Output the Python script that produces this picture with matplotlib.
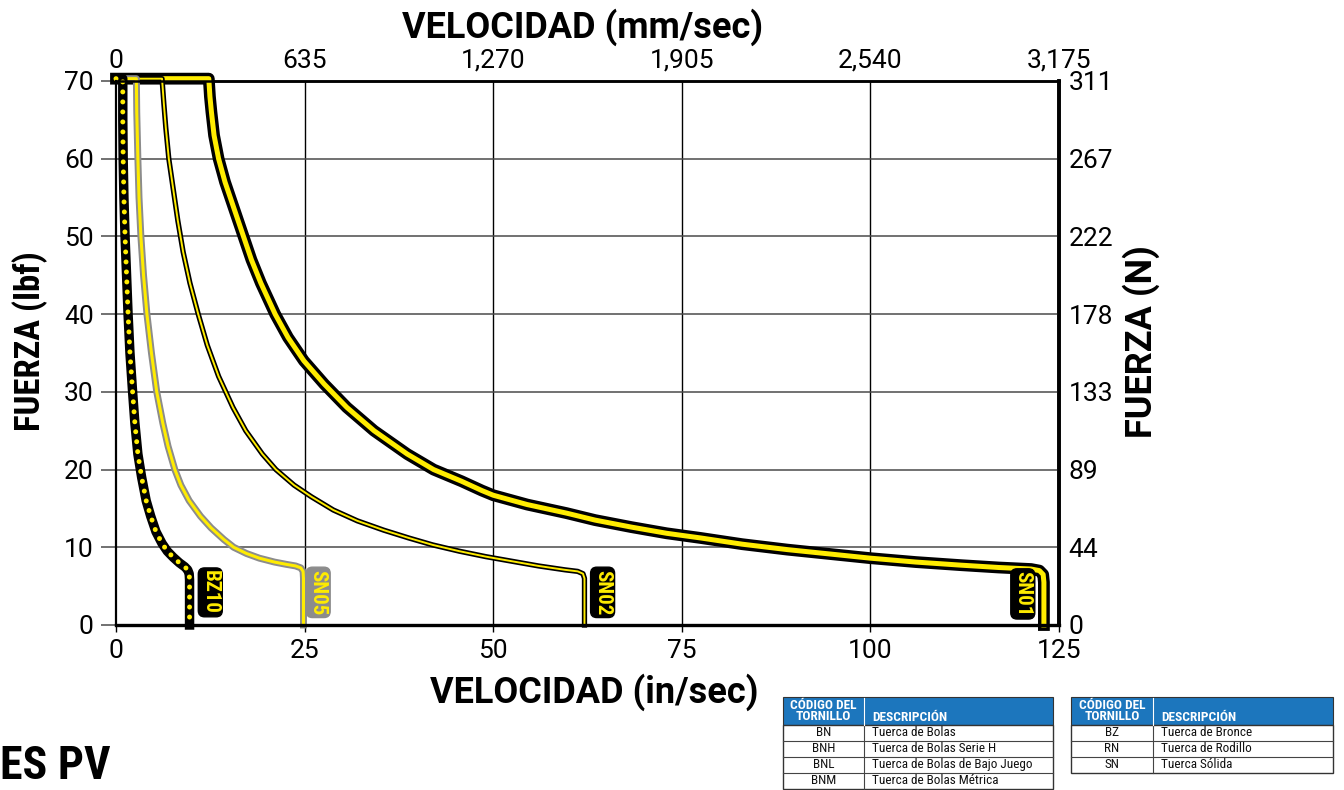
import matplotlib
matplotlib.use("Agg")
import matplotlib.pyplot as plt
from matplotlib import font_manager as fm
from matplotlib.patches import Rectangle

# ---------------- data ----------------
vel_ticks_in = [0, 25, 50, 75, 100, 125]
vel_ticks_mm = [0, 635, 1270, 1905, 2540, 3175]
vel_labels_mm = ["0", "635", "1,270", "1,905", "2,540", "3,175"]
force_ticks_lbf = [0, 10, 20, 30, 40, 50, 60, 70]
force_labels_n = ["0", "44", "89", "133", "178", "222", "267", "311"]

sn01_x = [0, 12.3, 12.45, 12.65, 13.0, 13.6, 14.45, 15.5, 16.9, 17.95, 19.2, 21.1, 22.8, 24.9, 27.6, 30.6, 34.2,
          38.6, 42.1, 45.8, 48.5, 50.0, 54.5, 59.7, 63.5, 68.3, 73.0, 77.5, 83.0, 89.0, 95.0, 100.0, 106.0,
          112.0, 117.0, 121.3, 122.4, 122.9, 123.0, 123.0]
sn01_y = [70.3, 70.3, 68, 66, 63, 60, 57, 54, 50, 47, 44, 40, 37, 34, 31, 28, 25,
          22, 20, 18.5, 17.3, 16.7, 15.5, 14.4, 13.5, 12.6, 11.8, 11.2, 10.4, 9.7, 9.1, 8.6, 8.1,
          7.7, 7.4, 7.2, 7.0, 6.5, 5.5, 0]

sn02_x = [0, 6.1, 6.35, 6.6, 7.0, 7.6, 8.2, 8.9, 9.8, 10.9, 12.1, 13.6, 15.5, 17.2, 19.4, 21.2, 23.6,
          25.9, 28.8, 32.0, 35.5, 38.8, 42.0, 45.5, 49.0, 52.5, 56.0, 59.5, 61.2, 61.9, 62.1, 62.1]
sn02_y = [70.3, 70.3, 67, 64, 60, 56, 52, 48, 44, 40, 36, 32, 28, 25, 22, 20, 18,
          16.5, 14.8, 13.4, 12.2, 11.2, 10.3, 9.5, 8.8, 8.2, 7.6, 7.1, 6.9, 6.6, 6.0, 0]

sn05_x = [0, 2.7, 2.75, 2.9, 3.05, 3.3, 3.65, 4.1, 4.7, 5.4, 6.2, 6.9, 7.8, 8.6, 9.7, 11.2, 12.6, 14.3,
          15.6, 17.3, 19.0, 21.0, 22.6, 23.8, 24.5, 24.8, 24.85, 24.85]
sn05_y = [70.3, 70.3, 66, 60, 55, 50, 45, 40, 35, 30, 26, 23, 20, 18, 16, 14, 12.5, 11,
          10, 9.2, 8.6, 8.1, 7.8, 7.6, 7.35, 6.9, 6.0, 0]

bz10_x = [0, 0.9, 0.9, 0.95, 1.05, 1.2, 1.4, 1.6, 1.85, 2.2, 2.5, 2.9, 3.4, 4.0, 4.6, 5.3, 6.1, 6.8,
          7.6, 8.4, 9.1, 9.5, 9.7, 9.75, 9.75]
bz10_y = [70.3, 70.3, 65, 60, 55, 50, 45, 40, 35, 30, 26, 22, 19, 16, 14, 12, 10.5, 9.5,
          8.7, 8.0, 7.5, 7.1, 6.6, 5.8, 0]

curve_labels = ["BZ10", "SN05", "SN02", "SN01"]
label_x = [12.5, 26.8, 64.5, 120.2]
label_y = [4.2, 4.2, 4.2, 4.0]

codes1 = ["BN", "BNH", "BNL", "BNM"]
desc1 = ["Tuerca de Bolas", "Tuerca de Bolas Serie H", "Tuerca de Bolas de Bajo Juego", "Tuerca de Bolas Métrica"]
codes2 = ["BZ", "RN", "SN"]
desc2 = ["Tuerca de Bronce", "Tuerca de Rodillo", "Tuerca Sólida"]

# ---------------- fonts ----------------
avail = {f.name for f in fm.fontManager.ttflist}
COND = None
for cand in ["Roboto Condensed", "Liberation Sans Narrow", "Noto Sans Condensed", "Open Sans Condensed"]:
    if cand in avail:
        COND = cand
        break
if COND is None:
    COND = "Liberation Sans"
WIDE = "Roboto" if "Roboto" in avail else "Liberation Sans"
FAM = [COND, "DejaVu Sans"]
FAMW = [WIDE, "DejaVu Sans"]
plt.rcParams["font.family"] = FAM

W, H = 1344, 790
fig = plt.figure(figsize=(W / 100, H / 100), dpi=100)
YEL = "#ffec00"

L, R, T, B = 116, 1059, 81, 625
ax = fig.add_axes([L / W, 1 - B / H, (R - L) / W, (B - T) / H])
ax.set_xlim(0, 125)
ax.set_ylim(0, 70)

# grid
for v in vel_ticks_in[1:-1]:
    ax.axvline(v, color="black", lw=1.0, zorder=1)
for f in force_ticks_lbf[1:-1]:
    ax.axhline(f, color="#4a4a4a", lw=1.1, zorder=1)

# curves
kw = dict(solid_joinstyle="round", clip_on=False)
ax.plot(sn01_x, sn01_y, color="black", lw=8.5, zorder=3, **kw)
ax.plot(sn01_x, sn01_y, color=YEL, lw=3.6, zorder=3.1, **kw)
ax.plot(sn02_x, sn02_y, color="black", lw=3.8, zorder=3.2, **kw)
ax.plot(sn02_x, sn02_y, color=YEL, lw=1.4, zorder=3.3, **kw)
ax.plot(sn05_x, sn05_y, color="#8c8c8c", lw=5.0, zorder=3.4, **kw)
ax.plot(sn05_x, sn05_y, color=YEL, lw=2.2, zorder=3.5, **kw)
ax.plot(bz10_x, bz10_y, color="black", lw=6.8, zorder=3.6, **kw)
ax.plot(bz10_x, bz10_y, color=YEL, lw=3.6, linestyle=(0, (0.001, 2.0)), dash_capstyle="round",
        clip_on=False, zorder=3.7)

# curve labels
box_fc = ["black", "#8c8c8c", "black", "black"]
for name, lx, ly, fc in zip(curve_labels, label_x, label_y, box_fc):
    ax.text(lx, ly, name, rotation=-90, ha="center", va="center", fontsize=15, fontweight="bold",
            color=YEL, family=FAM, zorder=5,
            bbox=dict(boxstyle="round,pad=0.12,rounding_size=0.3", fc=fc, ec=fc, lw=1))

# spines
for s, lw in [("left", 1.6), ("bottom", 2.4), ("top", 1.8), ("right", 2.6)]:
    ax.spines[s].set_linewidth(lw)
    ax.spines[s].set_color("black")
    ax.spines[s].set_zorder(4)

TS = 19
ax.set_xticks(vel_ticks_in)
ax.set_xticklabels([str(v) for v in vel_ticks_in], family=FAMW)
ax.set_yticks(force_ticks_lbf)
ax.set_yticklabels([str(v) for v in force_ticks_lbf], family=FAMW)
ax.tick_params(axis="x", direction="out", length=5, width=1.0, pad=5, labelsize=TS)
ax.tick_params(axis="y", direction="out", length=11, width=1.1, color="#4a4a4a", pad=5, labelsize=TS)

secx = ax.secondary_xaxis("top", functions=(lambda v: v * 25.4, lambda v: v / 25.4))
secx.set_xticks(vel_ticks_mm)
secx.set_xticklabels(vel_labels_mm, family=FAMW)
secx.tick_params(length=0, pad=6, labelsize=TS)
secx.spines["top"].set_linewidth(1.8)

secy = ax.secondary_yaxis("right", functions=(lambda v: v * 4.448, lambda v: v / 4.448))
secy.set_yticks([f * 4.448 for f in force_ticks_lbf])
secy.set_yticklabels(force_labels_n, family=FAMW)
secy.tick_params(length=0, pad=7, labelsize=TS)
secy.spines["right"].set_linewidth(2.6)

# axis titles
fig.text(583 / W, 1 - 27 / H, "VELOCIDAD (mm/sec)", ha="center", va="center", fontsize=26,
         fontweight="bold", family=FAMW)
fig.text(594 / W, 1 - 692 / H, "VELOCIDAD (in/sec)", ha="center", va="center", fontsize=26,
         fontweight="bold", family=FAMW)
fig.text(30 / W, 1 - 341 / H, "FUERZA (lbf)", ha="center", va="center", rotation=90, fontsize=25,
         fontweight="bold", family=FAM)
fig.text(1141 / W, 1 - 342 / H, "FUERZA (N)", ha="center", va="center", rotation=90, fontsize=26,
         fontweight="bold", family=FAMW)
fig.text(0 / W, 1 - 766 / H, "ES PV", ha="left", va="center", fontsize=33, fontweight="bold", family=FAM)

# tables
BLUE = "#1c76bd"


def fx(x):
    return x / W


def fy(y):
    return 1 - y / H


def draw_table(x0, xs, x1, codes, descs):
    top, hb, rh = 697, 724.5, 16.1
    n = len(codes)
    bottom = hb + rh * n
    fig.patches.append(Rectangle((fx(x0), fy(hb)), fx(x1) - fx(x0), fy(top) - fy(hb),
                                 transform=fig.transFigure, fc=BLUE, ec="#333333", lw=0.8))
    fig.patches.append(Rectangle((fx(x0), fy(bottom)), fx(x1) - fx(x0), fy(hb) - fy(bottom),
                                 transform=fig.transFigure, fc="white", ec="#333333", lw=1.0))
    fig.add_artist(plt.Line2D([fx(xs), fx(xs)], [fy(top + 1), fy(bottom)], transform=fig.transFigure,
                              color="#444444", lw=0.8))
    fig.add_artist(plt.Line2D([fx(xs), fx(xs)], [fy(top + 1), fy(hb)], transform=fig.transFigure,
                              color="white", lw=0.8))
    for i in range(1, n):
        yy = hb + rh * i
        fig.add_artist(plt.Line2D([fx(x0), fx(x1)], [fy(yy), fy(yy)], transform=fig.transFigure,
                                  color="#444444", lw=0.8))
    fig.text(fx((x0 + xs) / 2), fy(711), "CÓDIGO DEL\nTORNILLO", ha="center", va="center", color="white",
             fontsize=9.6, fontweight="bold", linespacing=0.85)
    fig.text(fx(xs + 8), fy(717.5), "DESCRIPCIÓN", ha="left", va="center", color="white",
             fontsize=9.6, fontweight="bold")
    for i, (c, d) in enumerate(zip(codes, descs)):
        yc = hb + rh * (i + 0.5)
        fig.text(fx((x0 + xs) / 2), fy(yc), c, ha="center", va="center", fontsize=9.5, color="#111111")
        fig.text(fx(xs + 8), fy(yc), d, ha="left", va="center", fontsize=9.5, color="#111111")


draw_table(783, 864, 1053, codes1, desc1)
draw_table(1071, 1153, 1333, codes2, desc2)

fig.savefig("out.png", dpi=100)
